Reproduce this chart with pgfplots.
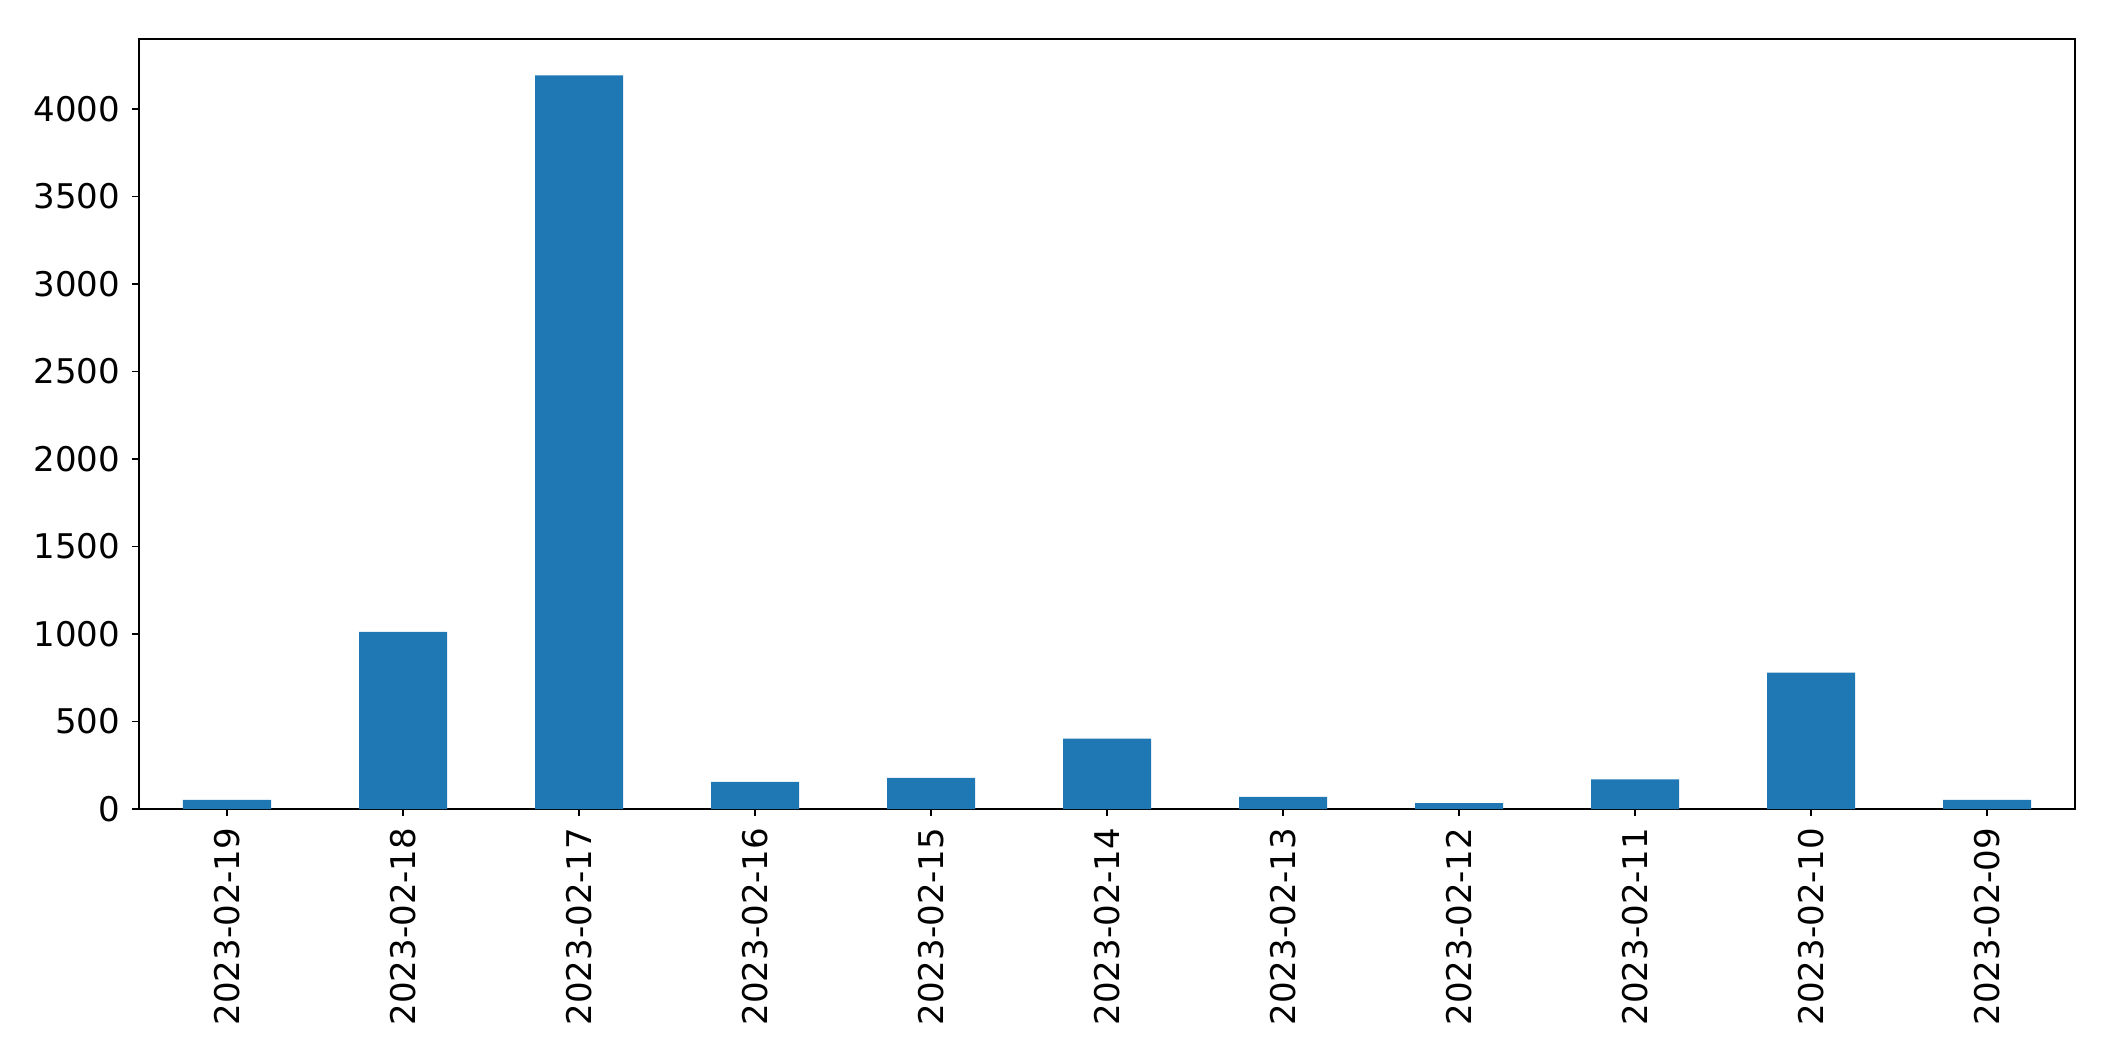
\documentclass[border=0pt]{standalone}
\usepackage{fontspec}
\setmainfont{DejaVu Sans}
\usepackage{pgfplots}
\pgfplotsset{compat=1.18}
\definecolor{mplblue}{HTML}{1F77B4}

\begin{document}
\fontsize{17}{20}\selectfont
\begin{tikzpicture}
  \begin{axis}[
    scale only axis,
    width=968pt,
    height=385pt,
    xmin=-0.5, xmax=10.5,
    ymin=0, ymax=4400,
    xtick=data,
    xticklabels={2023-02-19,2023-02-18,2023-02-17,2023-02-16,2023-02-15,2023-02-14,2023-02-13,2023-02-12,2023-02-11,2023-02-10,2023-02-09},
    xticklabel style={rotate=90, anchor=east},
    ytick distance=500,
    scaled y ticks=false,
    /pgf/number format/assume math mode=true,
    /pgf/number format/1000 sep={},
    tick align=outside,
    major tick length=3.5pt,
    tick style={black, line width=0.6pt},
    axis line style={line width=0.6pt},
    xtick pos=bottom, ytick pos=left,
    ybar, bar width=0.5,
    enlargelimits=false,
  ]
    \addplot[fill=mplblue, draw=none] coordinates {
      (0,52) (1,1012) (2,4192) (3,155) (4,178) (5,402)
      (6,70) (7,33) (8,170) (9,780) (10,52)
    };
  \end{axis}
  \pgfresetboundingbox
  \path[use as bounding box] ([xshift=-69.5pt,yshift=-126pt]current axis.south west)
    rectangle ([xshift=20pt,yshift=19.5pt]current axis.north east);
\end{tikzpicture}
\end{document}
